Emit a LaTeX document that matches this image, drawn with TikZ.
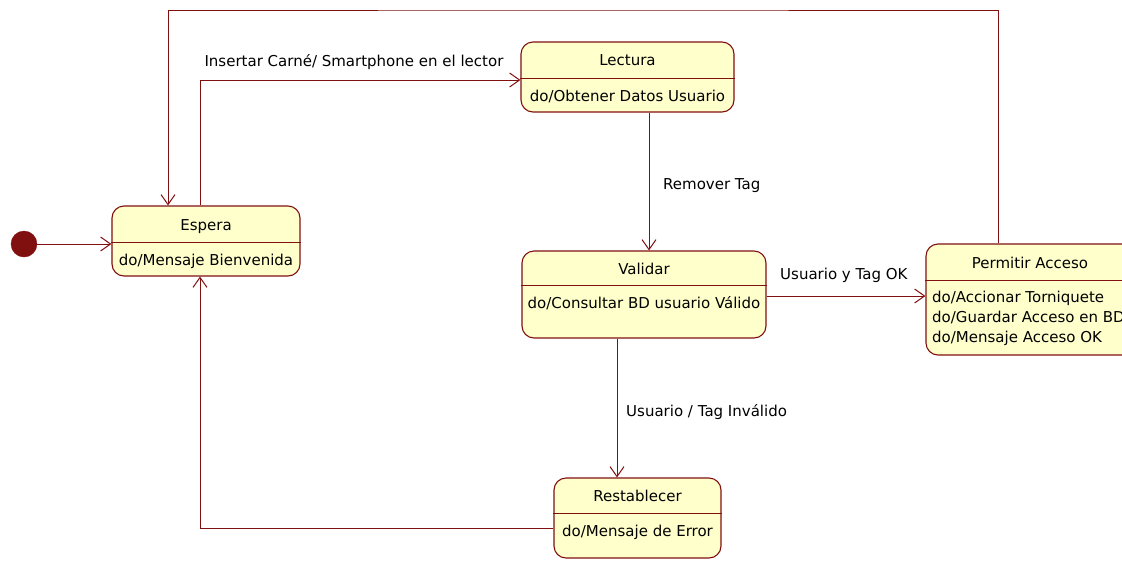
\documentclass[tikz,border=0pt]{standalone}
\usepackage{fontspec}
\setmainfont{DejaVu Sans}
\usetikzlibrary{arrows.meta}

\definecolor{borde}{RGB}{128,16,16}
\definecolor{relleno}{RGB}{255,255,204}

\begin{document}
\begin{tikzpicture}[x=1pt,y=-1pt,
  estado/.style={draw=borde, fill=relleno, rounded corners=12pt, line width=1.1pt},
  texto/.style={inner sep=0pt, text height=16pt, text depth=3.5pt,
    font=\fontsize{15}{18}\selectfont},
  inicial/.style={circle, fill=borde, draw=borde, minimum size=26pt, inner sep=0pt},
  trans/.style={draw=borde, line width=1pt,
    -{Straight Barb[length=10pt,width=14pt,line width=1pt]}}]
  \useasboundingbox (0,0) rectangle (1122,560);

  % estado inicial
  \node[inicial] (inicio) at (24,244) {};

  % estados
  \node[estado, minimum width=188pt, minimum height=70pt] (espera) at (206,241) {};
  \draw[borde, line width=1pt] (espera.west |- 0,242) -- (espera.east |- 0,242);
  \node[texto] (espera-t) at (206,224) {Espera};
  \node[texto] (espera-d) at (206,259) {do/Mensaje Bienvenida};

  \node[estado, minimum width=213pt, minimum height=70pt] (lectura) at (627.5,77) {};
  \draw[borde, line width=1pt] (lectura.west |- 0,78) -- (lectura.east |- 0,78);
  \node[texto] (lectura-t) at (627.5,59) {Lectura};
  \node[texto] (lectura-d) at (627.5,95) {do/Obtener Datos Usuario};

  \node[estado, minimum width=244pt, minimum height=87pt] (validar) at (644,294.5) {};
  \draw[borde, line width=1pt] (validar.west |- 0,285) -- (validar.east |- 0,285);
  \node[texto] (validar-t) at (644,268) {Validar};
  \node[texto] (validar-d) at (644,302) {do/Consultar BD usuario Válido};

  \node[estado, minimum width=216pt, minimum height=111pt] (permitir) at (1034,299.5) {};
  \draw[borde, line width=1pt] (permitir.west |- 0,280) -- (permitir.east |- 0,280);
  \node[texto] (permitir-t) at (1030,262) {Permitir Acceso};
  \node[texto, anchor=west] (permitir-d1) at (932,296) {do/Accionar Torniquete};
  \node[texto, anchor=west] (permitir-d2) at (932,316) {do/Guardar Acceso en BD};
  \node[texto, anchor=west] (permitir-d3) at (932,336) {do/Mensaje Acceso OK};

  \node[estado, minimum width=167pt, minimum height=80pt] (restablecer) at (637.5,518) {};
  \draw[borde, line width=1pt] (restablecer.west |- 0,513) -- (restablecer.east |- 0,513);
  \node[texto] (restablecer-t) at (637.5,495) {Restablecer};
  \node[texto] (restablecer-d) at (637.5,530) {do/Mensaje de Error};

  % transiciones
  \coordinate (arriba) at (583,10);
  \draw[trans] (inicio) -- (espera.west |- inicio);
  \draw[trans] (espera.north -| 200,0) |- (lectura.west |- 0,80);
  \draw[trans] (lectura.south -| 649,0) -- (validar.north -| 649,0);
  \draw[trans] (validar.east |- 0,296) -- (permitir.west |- 0,296);
  \draw[trans] (validar.south -| 617,0) -- (restablecer.north -| 617,0);
  \draw[trans] (restablecer.west |- 0,528) -| (espera.south -| 200,0);
  \draw[trans] (permitir.north -| 998,0) |- (arriba) -| (espera.north -| 168,0);

  % etiquetas
  \node[texto] (l-insertar) at (354,60) {Insertar Carné/ Smartphone en el lector};
  \node[texto, anchor=west] (l-remover) at (663,183) {Remover Tag};
  \node[texto, anchor=west] (l-ok) at (780,273) {Usuario y Tag OK};
  \node[texto, anchor=west] (l-invalido) at (626,410) {Usuario / Tag Inválido};
\end{tikzpicture}
\end{document}
